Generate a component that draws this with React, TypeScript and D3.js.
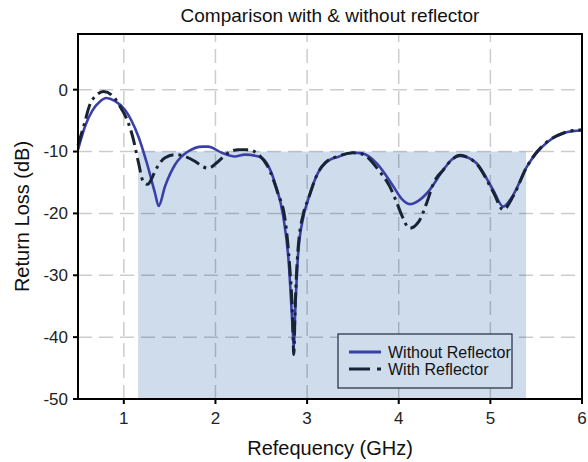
import React from "react";
import * as d3 from "d3";

// Without reflector (GHz, dB)
const freqWithout = [
  0.5, 0.58, 0.66, 0.74, 0.81, 0.9, 1.01, 1.08, 1.16, 1.25, 1.34, 1.38, 1.45, 1.56, 1.7, 1.86, 1.92,
  2.07, 2.21, 2.32, 2.47, 2.56, 2.65, 2.74, 2.8, 2.84, 2.855, 2.87, 2.9, 2.96, 3.01, 3.12, 3.2, 3.35,
  3.5, 3.6, 3.76, 3.94, 4.03, 4.12, 4.21, 4.31, 4.49, 4.58, 4.67, 4.76, 4.85, 5.03, 5.14, 5.25, 5.4,
  5.5, 5.62, 5.8, 5.9, 6.0,
];
const lossWithout = [
  -9.7, -5.8, -3.3, -1.9, -1.35, -1.8, -3.2, -4.9, -7.6, -11.8, -16.7, -18.8, -15.6, -12.1, -10.0,
  -9.2, -9.2, -10.2, -10.8, -10.5, -10.8, -11.9, -15.1, -20.5, -28, -38, -41.5, -36, -27, -20.5,
  -17.8, -13.4, -11.8, -10.8, -10.2, -10.3, -11.9, -15.6, -17.6, -18.5, -18.0, -16.7, -12.9, -11.3,
  -10.7, -11.0, -11.9, -16.2, -18.9, -17.0, -12.4, -10.3, -8.5, -7.0, -6.7, -6.6,
];

// With reflector (GHz, dB)
const freqWith = [
  0.5, 0.56, 0.63, 0.7, 0.78, 0.9, 0.97, 1.05, 1.1, 1.16, 1.21, 1.26, 1.3, 1.34, 1.45, 1.56, 1.67,
  1.78, 1.87, 1.92, 2.03, 2.14, 2.25, 2.36, 2.47, 2.57, 2.68, 2.76, 2.81, 2.84, 2.855, 2.87, 2.9,
  2.96, 3.01, 3.12, 3.2, 3.35, 3.5, 3.6, 3.79, 3.9, 3.98, 4.03, 4.12, 4.22, 4.31, 4.38, 4.49, 4.58,
  4.67, 4.76, 4.85, 5.03, 5.14, 5.25, 5.4, 5.5, 5.62, 5.8, 5.9, 6.0,
];
const lossWith = [
  -9.0, -6.0, -2.4, -0.9, -0.3, -1.35, -3.0, -5.4, -7.8, -11.8, -14.8, -15.3, -14.5, -13.2, -11.0,
  -10.5, -10.8, -11.6, -12.5, -12.7, -11.6, -10.2, -9.7, -9.7, -10.5, -12.4, -16.7, -21, -28.6,
  -36.1, -42.8, -35, -26, -20, -17.8, -13.4, -11.8, -10.7, -10.2, -10.4, -13.2, -15.6, -18.3, -20.2,
  -22.4, -21.3, -18.1, -15.1, -12.9, -11.3, -10.6, -11.0, -12.0, -16.5, -19.4, -17.2, -12.4, -10.2,
  -8.4, -7.0, -6.6, -6.5,
];

const xTicks = [1, 2, 3, 4, 5, 6];
const yTicks = [0, -10, -20, -30, -40, -50];
const band = [1.156, 5.39]; // shaded -10 dB band
const bandLevel = -10;

const W = 588;
const H = 462;
const m = { left: 78, right: 6, top: 34, bottom: 63 };

export default function App() {
  const x = d3.scaleLinear().domain([0.5, 6]).range([m.left, W - m.right]);
  const y = d3.scaleLinear().domain([-50, 9]).range([H - m.bottom, m.top]);

  const line = d3
    .line<[number, number]>()
    .x((d) => x(d[0]))
    .y((d) => y(d[1]))
    .curve(d3.curveMonotoneX);

  const pathWithout = line(freqWithout.map((f, i) => [f, lossWithout[i]]) as [number, number][]);
  const pathWith = line(freqWith.map((f, i) => [f, lossWith[i]]) as [number, number][]);

  const font = "'Liberation Sans', Arial, sans-serif";
  const x0 = m.left;
  const x1 = W - m.right;
  const y0 = H - m.bottom;
  const y1 = m.top;

  return (
    <div style={{ position: "absolute", left: 0, top: 0 }}>
      <svg width={W} height={H} style={{ display: "block", background: "#fff" }} fontFamily={font}>
        <rect
          x={x(band[0])}
          y={y(bandLevel)}
          width={x(band[1]) - x(band[0])}
          height={y(-50) - y(bandLevel)}
          fill="#cfdcec"
        />
        <g stroke="#000" strokeOpacity={0.2} strokeWidth={1.5} strokeDasharray="14,7">
          {xTicks.filter((t) => t < 6).map((t) => (
            <line key={"gx" + t} x1={x(t)} x2={x(t)} y1={y0} y2={y1} />
          ))}
          {yTicks.filter((t) => t > -50).map((t) => (
            <line key={"gy" + t} x1={x0} x2={x1} y1={y(t)} y2={y(t)} />
          ))}
        </g>
        <path d={pathWithout || ""} fill="none" stroke="#3a40a8" strokeWidth={2.6} />
        <path
          d={pathWith || ""}
          fill="none"
          stroke="#182435"
          strokeWidth={3}
          strokeDasharray="15,5,3,5"
        />
        <g stroke="#000" strokeWidth={2} fill="none">
          <rect x={x0} y={y1} width={x1 - x0} height={y0 - y1} />
          {xTicks.map((t) => (
            <line key={"tx" + t} x1={x(t)} x2={x(t)} y1={y0} y2={y0 + 5} />
          ))}
          {yTicks.map((t) => (
            <line key={"ty" + t} x1={x0 - 5} x2={x0} y1={y(t)} y2={y(t)} />
          ))}
        </g>
        <g fontSize={17} fill="#222">
          {xTicks.map((t) => (
            <text key={"lx" + t} x={x(t)} y={y0 + 25} textAnchor="middle">
              {t}
            </text>
          ))}
          {yTicks.map((t) => (
            <text key={"ly" + t} x={x0 - 10} y={y(t)} dy="0.35em" textAnchor="end">
              {t}
            </text>
          ))}
        </g>
        <text x={(x0 + x1) / 2} y={22} textAnchor="middle" fontSize={19} fill="#111">
          Comparison with &amp; without reflector
        </text>
        <text x={(x0 + x1) / 2} y={455} textAnchor="middle" fontSize={20} fill="#111">
          Refequency (GHz)
        </text>
        <text
          transform={`translate(29,${(y0 + y1) / 2}) rotate(-90)`}
          textAnchor="middle"
          fontSize={20}
          fill="#111"
        >
          Return Loss (dB)
        </text>
        <g>
          <rect x={338} y={334} width={174} height={54} fill="#cfdcec" stroke="#1e2a3a" strokeWidth={1.2} />
          <line x1={349} x2={381} y1={352} y2={352} stroke="#3a40a8" strokeWidth={3} />
          <line x1={349} x2={381} y1={369} y2={369} stroke="#182435" strokeWidth={3} strokeDasharray="21,7,4,40" />
          <text x={388} y={352} dy="0.35em" fontSize={16} fill="#111">
            Without Reflector
          </text>
          <text x={388} y={369} dy="0.35em" fontSize={16} fill="#111">
            With Reflector
          </text>
        </g>
      </svg>
    </div>
  );
}
